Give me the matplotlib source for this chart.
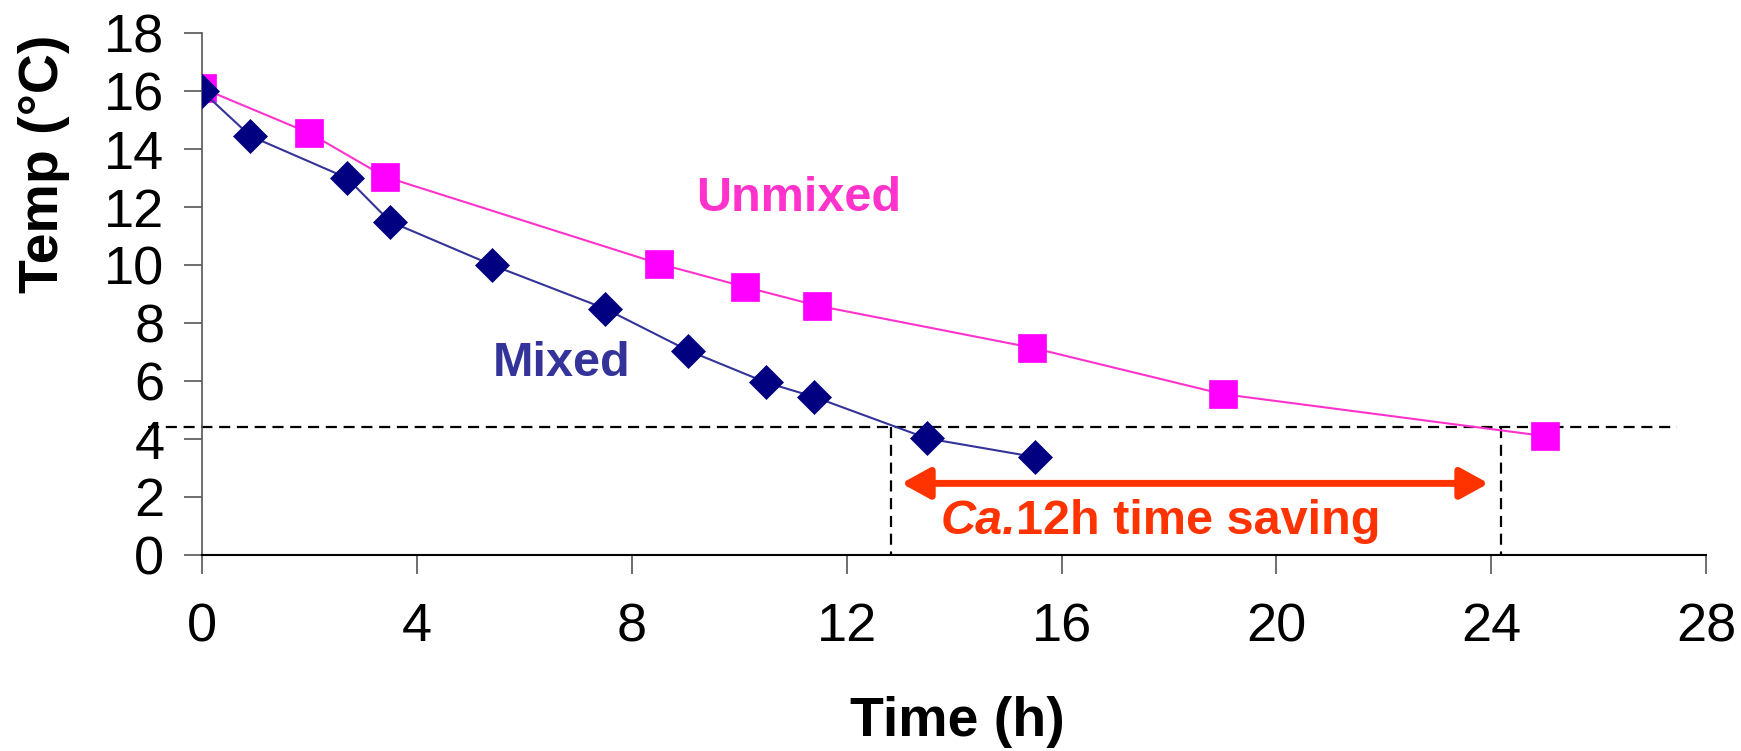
import matplotlib
matplotlib.use('Agg')
import matplotlib.pyplot as plt

plt.rcParams['font.family'] = ['Liberation Sans', 'DejaVu Sans']

# data
mixed_t = [0, 0.9, 2.7, 3.5, 5.4, 7.5, 9.05, 10.5, 11.4, 13.5, 15.5]
mixed_temp = [16.0, 14.45, 13.0, 11.5, 10.0, 8.5, 7.05, 5.95, 5.45, 4.02, 3.38]
unmixed_t = [0, 2.0, 3.4, 8.5, 10.1, 11.45, 15.45, 19.0, 25.0]
unmixed_temp = [16.1, 14.55, 13.05, 10.05, 9.25, 8.6, 7.15, 5.55, 4.1]
target_temp = 4.41
cross_mixed = 12.83
cross_unmixed = 24.18
x_ticks = [0, 4, 8, 12, 16, 20, 24, 28]
y_ticks = [0, 2, 4, 6, 8, 10, 12, 14, 16, 18]

fig = plt.figure(figsize=(17.41, 7.51), dpi=100)
ax = fig.add_axes([0.116, 0.261, 0.864, 0.695])

ax.plot(unmixed_t, unmixed_temp, color='#FF33CC', lw=1.5, marker='s', ms=20,
        mfc='#FF00FF', mec='#FF00FF', mew=0.5, zorder=3)
ax.plot(mixed_t, mixed_temp, color='#333399', lw=1.5, marker='D', ms=17,
        mfc='#000080', mec='#000080', mew=0.5, zorder=4)

# 4.4 C guide lines
dash = (0, (5, 3))
ax.plot([-1, 27.46], [target_temp, target_temp], color='black', lw=1.6,
        ls=dash, clip_on=False, zorder=2)
for xc in [cross_mixed, cross_unmixed]:
    ax.plot([xc, xc], [target_temp, 0.05], color='black', lw=1.6,
            ls=dash, zorder=2)

ax.annotate('', xy=(13.02, 2.47), xytext=(23.95, 2.47),
            arrowprops=dict(arrowstyle='<|-|>,head_length=1.0,head_width=0.55',
                            color='#FF3300', lw=5, shrinkA=0, shrinkB=0,
                            mutation_scale=17))
ax.text(15.15, 1.15, 'Ca.', color='#FF3300', fontsize=35, fontweight='bold',
        fontstyle='italic', ha='right', va='center')
ax.text(15.15, 1.15, '12h time saving', color='#FF3300', fontsize=35,
        fontweight='bold', ha='left', va='center')
ax.text(11.1, 12.3, 'Unmixed', color='#FF33CC', fontsize=35,
        fontweight='bold', ha='center', va='center')
ax.text(6.7, 6.6, 'Mixed', color='#333399', fontsize=35,
        fontweight='bold', ha='center', va='center')

ax.set_xlim(0, 28)
ax.set_ylim(0, 18)
ax.set_xticks(x_ticks)
ax.set_yticks(y_ticks)
ax.tick_params(axis='x', direction='out', length=14, width=1.2, color='#555555',
               labelsize=39, pad=20)
ax.tick_params(axis='y', direction='out', length=13, width=1.2, color='#555555',
               labelsize=39, pad=14)
for s in ['top', 'right']:
    ax.spines[s].set_visible(False)
ax.spines['left'].set_color('#555555')
ax.spines['left'].set_linewidth(1.2)
ax.spines['bottom'].set_color('black')
ax.spines['bottom'].set_linewidth(1.5)

ax.set_xlabel('Time (h)', fontsize=40, fontweight='bold')
ax.set_ylabel('Temp (\u00b0C)', fontsize=40, fontweight='bold')
ax.xaxis.set_label_coords(0.502, -0.27)
ax.yaxis.set_label_coords(-0.088, 0.749)

fig.savefig('out.png', dpi=100)
